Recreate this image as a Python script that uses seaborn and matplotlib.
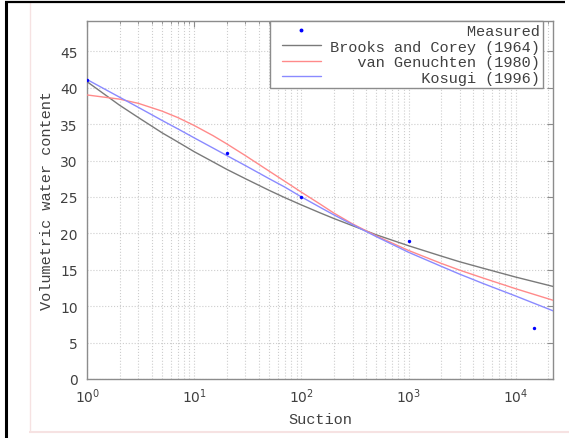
import matplotlib
matplotlib.use("Agg")
import matplotlib.pyplot as plt
from matplotlib.lines import Line2D
from matplotlib.legend_handler import HandlerLine2D
from matplotlib.ticker import LogLocator, NullFormatter, MultipleLocator
import seaborn as sns
import pandas as pd

# Measured retention data
suction_measured = [1, 20, 100, 1000, 15000]
theta_measured = [41, 31, 25, 19, 7]

# Fitted retention curves
suction_fit = [1, 2, 3, 5, 7, 10, 15, 20, 30, 50, 70, 100, 150, 200, 300, 500,
               1000, 2000, 3000, 5000, 10000, 22500]
brooks_corey = [40.8, 37.6, 35.9, 33.8, 32.55, 31.2, 29.8, 28.8, 27.5, 25.9, 24.9, 23.9,
                22.8, 22.05, 21.05, 19.8, 18.3, 16.9, 16.1, 15.2, 14.0, 12.7]
van_genuchten = [39.0, 38.43, 37.85, 36.78, 35.9, 34.8, 33.4, 32.3, 30.67, 28.54, 27.14,
                 25.65, 24.0, 22.8, 21.3, 19.65, 17.65, 15.9, 14.95, 13.85, 12.4, 10.8]
kosugi = [41.1, 38.7, 37.3, 35.5, 34.35, 33.1, 31.7, 30.7, 29.3, 27.5, 26.35, 25.0,
          23.56, 22.55, 21.2, 19.55, 17.4, 15.5, 14.4, 13.1, 11.4, 9.35]

labels = ["Measured", "Brooks and Corey (1964)", "van Genuchten (1980)", "Kosugi (1996)"]
colors = {"Brooks and Corey (1964)": "#7a7a7a",
          "van Genuchten (1980)": "#ff8a8a",
          "Kosugi (1996)": "#8a8aff"}

sns.set_theme(style="white")
plt.rcParams["font.family"] = ["DejaVu Sans"]

W, H = 572, 439
fig = plt.figure(figsize=(W / 100, H / 100), dpi=100)
ax = fig.add_axes([87.3 / W, (H - 380) / H, 466 / W, 358.3 / H])

fits = pd.DataFrame({
    "suction": suction_fit * 3,
    "theta": brooks_corey + van_genuchten + kosugi,
    "model": [labels[1]] * len(suction_fit) + [labels[2]] * len(suction_fit)
             + [labels[3]] * len(suction_fit),
})
meas = pd.DataFrame({"suction": suction_measured, "theta": theta_measured})

sns.scatterplot(data=meas, x="suction", y="theta", ax=ax, color="#0000ff",
                marker="o", s=6, linewidth=0, zorder=4, legend=False)
sns.lineplot(data=fits, x="suction", y="theta", hue="model", palette=colors,
             ax=ax, linewidth=1.0, legend=False, zorder=3, sort=False, estimator=None)

ax.set_xscale("log")
ax.set_xlim(1, 22500)
ax.set_ylim(0, 49.2)
ax.yaxis.set_major_locator(MultipleLocator(5))
ax.xaxis.set_major_locator(LogLocator(base=10, numticks=10))
ax.xaxis.set_minor_locator(LogLocator(base=10, subs=range(2, 10), numticks=50))
ax.xaxis.set_minor_formatter(NullFormatter())

ax.grid(True, which="major", axis="both", color="#cdcdcd", linestyle=":", linewidth=0.8)
ax.grid(True, which="minor", axis="x", color="#cdcdcd", linestyle=":", linewidth=0.8)
ax.set_axisbelow(True)

for s in ax.spines.values():
    s.set_color("#8c8c8c")
    s.set_linewidth(1.0)
ax.tick_params(axis="both", which="both", direction="in", top=True, right=True,
               colors="#8c8c8c", labelcolor="#404040", labelsize=10)
ax.tick_params(axis="both", which="major", length=4, width=0.8)
ax.tick_params(axis="x", which="minor", length=2.5, width=0.6)
ax.tick_params(axis="y", which="major", pad=7)
ax.tick_params(axis="x", which="major", pad=5)

mono = "Liberation Mono"
ax.set_xlabel("Suction", fontfamily=mono, fontsize=11, color="#404040")
ax.set_ylabel("Volumetric water content", fontfamily=mono, fontsize=11, color="#404040")
ax.xaxis.set_label_coords(0.5, -0.093)
ax.yaxis.set_label_coords(-0.072, 0.5)

width = max(len(t) for t in labels)
handles = [Line2D([], [], color="#0000ff", marker="o", markersize=1.8, linestyle="none")]
handles += [Line2D([], [], color=colors[m], linewidth=1.0) for m in labels[1:]]
leg = ax.legend(handles, [t.rjust(width) for t in labels], loc="upper right",
                bbox_to_anchor=(1 - 10 / 466, 1 - 0.5 / 358.3),
                prop={"family": mono, "size": 11},
                frameon=True, fancybox=False, framealpha=1, edgecolor="#8c8c8c",
                handlelength=3.1, handletextpad=0.63, borderpad=0.2,
                labelspacing=0.1, borderaxespad=0.0,
                handler_map={Line2D: HandlerLine2D(xpad=0.55)})
leg.get_frame().set_linewidth(1.0)
for t in leg.get_texts():
    t.set_color("#404040")


def px_line(x0, y0, x1, y1, color, lw):
    fig.add_artist(Line2D([x0 / W, x1 / W], [1 - y0 / H, 1 - y1 / H],
                          transform=fig.transFigure, color=color, linewidth=lw,
                          solid_capstyle="butt"))


# page frame around the figure
px_line(29.5, 3, 29.5, 433, "#f6e2e2", 1.0)
px_line(29, 433, 569, 433, "#f6e2e2", 1.5)
px_line(6, 2, 6, 439, "#000000", 2.2)
px_line(5, 2.6, 565, 2.6, "#000000", 1.6)

fig.savefig("out.png", dpi=100)
